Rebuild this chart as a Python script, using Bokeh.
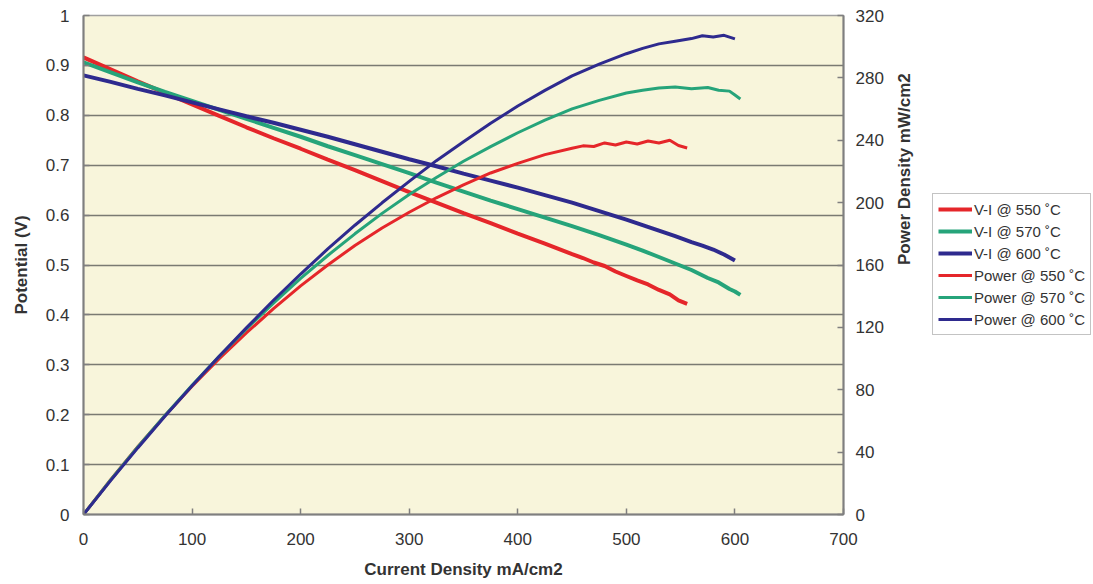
import math
from bokeh.plotting import figure
from bokeh.models import (LinearAxis, Range1d, Legend, LegendItem, FixedTicker,
                          NumeralTickFormatter)
from bokeh.embed import file_html
from bokeh.resources import INLINE

# ---- data ----
I_550 = [0, 25, 50, 75, 100, 125, 150, 175, 200, 225, 250, 275, 300, 325, 350, 375, 400, 425, 450,
         460, 470, 480, 490, 500, 510, 520, 530, 540, 548, 556]
V_550 = [0.916, 0.892, 0.868, 0.845, 0.822, 0.799, 0.776, 0.754, 0.733, 0.711, 0.690, 0.668, 0.646,
         0.625, 0.604, 0.584, 0.563, 0.543, 0.522,
         0.514, 0.505, 0.498, 0.487, 0.478, 0.469, 0.461, 0.450, 0.441, 0.429, 0.422]
P_550 = [0, 22.3, 43.4, 63.4, 82.2, 99.9, 116.4, 132.0, 146.6, 160.0, 172.5, 183.7, 193.8, 203.1,
         211.4, 219.0, 225.2, 230.8, 234.9,
         236.4, 236.0, 238.3, 237.0, 238.9, 237.6, 239.5, 238.2, 240.0, 236.6, 235.0]

I_570 = [0, 25, 50, 75, 100, 125, 150, 175, 200, 225, 250, 275, 300, 325, 350, 375, 400, 425, 450,
         475, 500, 515, 530, 545, 560, 575, 585, 595, 600, 605]
V_570 = [0.906, 0.886, 0.866, 0.847, 0.829, 0.811, 0.793, 0.775, 0.757, 0.738, 0.720, 0.702, 0.684,
         0.665, 0.647, 0.629, 0.612, 0.595, 0.578,
         0.560, 0.541, 0.529, 0.516, 0.503, 0.490, 0.474, 0.465, 0.452, 0.447, 0.440]
P_570 = [0, 22.2, 43.3, 63.5, 82.9, 101.4, 119.0, 135.6, 151.4, 166.1, 180.0, 193.1, 205.2, 216.1,
         226.5, 235.9, 244.8, 252.9, 260.1,
         265.6, 270.3, 272.0, 273.5, 274.2, 273.0, 273.8, 272.1, 271.5, 269.0, 266.5]

I_600 = [0, 25, 50, 75, 100, 125, 150, 175, 200, 225, 250, 275, 300, 325, 350, 375, 400, 425, 450,
         475, 500, 515, 530, 545, 560, 570, 580, 590, 600]
V_600 = [0.880, 0.867, 0.853, 0.840, 0.826, 0.812, 0.798, 0.785, 0.771, 0.757, 0.742, 0.727, 0.712,
         0.698, 0.683, 0.669, 0.655, 0.640, 0.625,
         0.608, 0.591, 0.580, 0.569, 0.558, 0.546, 0.539, 0.531, 0.521, 0.509]
P_600 = [0, 21.7, 42.7, 63.0, 82.6, 101.5, 119.7, 137.4, 154.2, 170.3, 185.5, 199.9, 213.6, 226.9,
         239.0, 250.9, 262.0, 272.0, 281.3,
         288.8, 295.5, 298.9, 301.8, 303.5, 305.2, 307.0, 306.2, 307.3, 305.0]

x_ticks = [0, 100, 200, 300, 400, 500, 600, 700]
y_ticks = [0, 0.1, 0.2, 0.3, 0.4, 0.5, 0.6, 0.7, 0.8, 0.9, 1]
p_ticks = [0, 40, 80, 120, 160, 200, 240, 280, 320]

RED = "#E5262A"
GREEN = "#26A47A"
BLUE = "#2E2A8E"
FONT = "Liberation Sans"
TXT = "#333333"
AXC = "#7F7F7F"

p = figure(frame_width=760, frame_height=499, x_range=Range1d(0, 700), y_range=Range1d(0, 1),
           output_backend="svg", toolbar_location=None,
           min_border_left=83, min_border_right=0, min_border_top=15, min_border_bottom=68)
p.background_fill_color = "#F8F5DB"
p.border_fill_color = "white"
p.outline_line_color = "#A0A0A0"
p.outline_line_width = 1.5

p.extra_y_ranges = {"pow": Range1d(0, 320)}

# axes
p.xaxis.ticker = FixedTicker(ticks=x_ticks)
p.yaxis.ticker = FixedTicker(ticks=y_ticks)
p.yaxis.formatter = NumeralTickFormatter(format="0.[0]")
p.xaxis.axis_label = "Current Density mA/cm2"
p.yaxis.axis_label = "Potential (V)"

rax = LinearAxis(y_range_name="pow", ticker=FixedTicker(ticks=p_ticks),
                 axis_label="Power Density mW/cm2")
p.add_layout(rax, "right")

for ax in [p.xaxis[0], p.yaxis[0], rax]:
    ax.axis_line_color = AXC
    ax.axis_line_width = 2
    ax.major_tick_line_color = AXC
    ax.major_tick_line_width = 1.5
    ax.major_tick_in = 6
    ax.major_tick_out = 0
    ax.minor_tick_line_color = None
    ax.major_label_text_font = FONT
    ax.major_label_text_font_size = "17px"
    ax.major_label_text_color = TXT
    ax.axis_label_text_font = FONT
    ax.axis_label_text_font_size = "17px"
    ax.axis_label_text_font_style = "bold"
    ax.axis_label_text_color = TXT

p.xaxis.major_label_standoff = 18
p.xaxis.axis_label_standoff = 12
p.yaxis.major_label_standoff = 14
p.yaxis.axis_label_standoff = 12
rax.major_label_standoff = 12
rax.axis_label_standoff = 18
rax.axis_label_orientation = math.pi / 2

p.xgrid.visible = False
p.ygrid.ticker = FixedTicker(ticks=y_ticks)
p.ygrid.grid_line_color = "#7A7A72"
p.ygrid.grid_line_width = 1.5

# lines
vi_r = p.line(I_550, V_550, color=RED, line_width=4)
vi_g = p.line(I_570, V_570, color=GREEN, line_width=4)
vi_b = p.line(I_600, V_600, color=BLUE, line_width=4)
pw_r = p.line(I_550, P_550, color=RED, line_width=3, y_range_name="pow")
pw_g = p.line(I_570, P_570, color=GREEN, line_width=3, y_range_name="pow")
pw_b = p.line(I_600, P_600, color=BLUE, line_width=3, y_range_name="pow")

legend = Legend(items=[
    LegendItem(label="V-I @ 550 \u02daC", renderers=[vi_r]),
    LegendItem(label="V-I @ 570 \u02daC", renderers=[vi_g]),
    LegendItem(label="V-I @ 600 \u02daC", renderers=[vi_b]),
    LegendItem(label="Power @ 550 \u02daC", renderers=[pw_r]),
    LegendItem(label="Power @ 570 \u02daC", renderers=[pw_g]),
    LegendItem(label="Power @ 600 \u02daC", renderers=[pw_b]),
], location=(-227, 179))
legend.border_line_color = "#888888"
legend.border_line_width = 1.5
legend.background_fill_color = "white"
legend.background_fill_alpha = 1
legend.label_text_font = FONT
legend.label_text_font_size = "15px"
legend.label_text_color = TXT
legend.glyph_width = 34
legend.glyph_height = 20
legend.label_height = 20
legend.label_standoff = 2
legend.spacing = 2
legend.padding = 5
legend.margin = 0
p.add_layout(legend, "right")

open("out.html", "w").write(file_html(p, INLINE))
